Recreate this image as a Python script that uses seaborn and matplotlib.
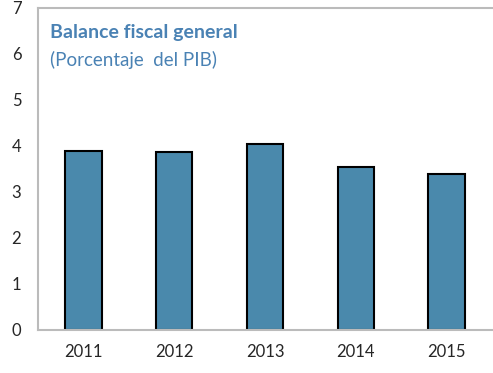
import matplotlib
matplotlib.use("Agg")
import matplotlib.pyplot as plt
import seaborn as sns
import pandas as pd

years = ["2011", "2012", "2013", "2014", "2015"]
values = [3.9, 3.86, 4.05, 3.55, 3.39]
yticks = [0, 1, 2, 3, 4, 5, 6, 7]

sns.set_style("white")
plt.rcParams['font.family'] = ['Lato', 'DejaVu Sans']

fig = plt.figure(figsize=(4.93, 3.73), dpi=100)
ax = fig.add_axes([0.077, 0.1153, 0.921, 0.8633])

df = pd.DataFrame({"year": years, "value": values})
sns.barplot(data=df, x="year", y="value", color="#4A89AC", saturation=1,
            width=0.4, edgecolor="black", linewidth=1.5, ax=ax)

ax.set_ylim(0, 7)
ax.set_yticks(yticks)
ax.set_xlim(-0.5, len(years) - 0.5)
ax.set_xlabel("")
ax.set_ylabel("")
ax.tick_params(axis="y", direction="in", length=5, color="#BBBBBB", width=1.2,
               labelsize=12, pad=12)
ax.tick_params(axis="x", length=0, labelsize=12, pad=10)
# category boundary ticks
ax.set_xticks([i + 0.5 for i in range(len(years) - 1)], minor=True)
ax.tick_params(axis="x", which="minor", direction="in", length=6, color="#BBBBBB", width=1.2)

for s in ["left", "bottom", "top"]:
    ax.spines[s].set_color("#BBBBBB")
    ax.spines[s].set_linewidth(1.5)
ax.spines["right"].set_visible(False)

ax.text(0.027, 0.925, "Balance fiscal general", transform=ax.transAxes,
        fontsize=14, fontweight="bold", color="#4A82B4", va="center", ha="left")
ax.text(0.027, 0.84, "(Porcentaje  del PIB)", transform=ax.transAxes,
        fontsize=13.5, color="#4A82B4", va="center", ha="left")

fig.savefig("out.png", dpi=100)
